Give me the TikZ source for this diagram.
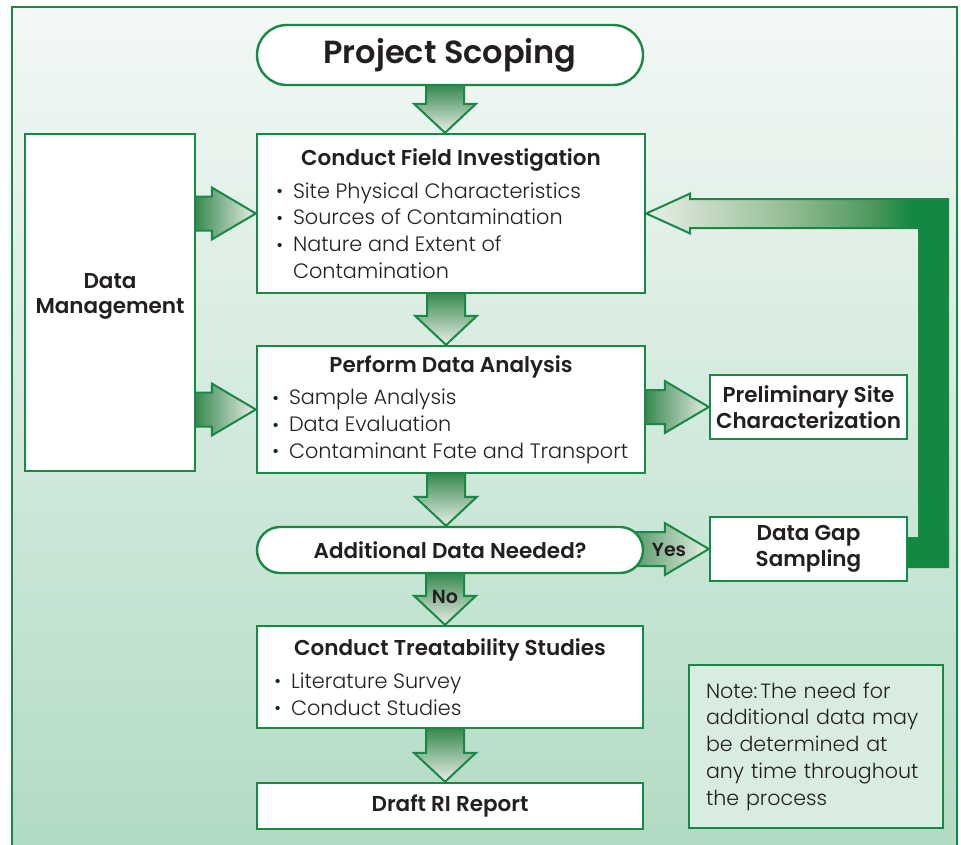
\documentclass[tikz,border=0pt]{standalone}
\usepackage{fontspec}
\setmainfont{Poppins Light}[BoldFont={Poppins SemiBold}]
\usetikzlibrary{shapes.misc,calc}
\definecolor{G}{RGB}{24,137,68}
\definecolor{AD}{RGB}{58,138,82}
\definecolor{AL}{RGB}{234,239,230}
\definecolor{AM}{RGB}{150,190,150}
\definecolor{AN}{RGB}{75,150,92}
\definecolor{FD}{RGB}{18,136,66}
\definecolor{BGT}{RGB}{243,248,245}
\definecolor{BGB}{RGB}{176,218,194}
\definecolor{NF}{RGB}{216,236,224}
\definecolor{TX}{RGB}{35,31,32}
\pgfdeclarelayer{back}
\pgfdeclarelayer{arr}
\pgfsetlayers{back,arr,main}
\pgfdeclarehorizontalshading{fbshade}{100bp}{color(0bp)=(AL); color(25bp)=(AL); color(48bp)=(AM); color(63bp)=(AN); color(69bp)=(FD); color(100bp)=(FD)}
\hfuzz=400pt
\newcommand{\bitem}[1]{\par\noindent\makebox[17pt][l]{\raisebox{1.5pt}{\fontsize{15}{15}\selectfont\bfseries •}}\mbox{#1}}
\newcommand{\bcont}[1]{\par\noindent\hspace*{17pt}\mbox{#1}}
\newcommand{\boxtext}[3]{\parbox{#1}{\fontsize{20.8}{26.7}\selectfont{\centering\fontsize{21.5}{26.7}\selectfont\bfseries #2\par}\vspace{6pt}#3}}
\newcommand{\varrow}[2]{%
  \draw[draw=G, line width=2pt, top color=AD, bottom color=AL]
    let \p1=(#1.south), \p2=(#2.north) in
    (\x1-24pt,\y1) -- (\x1-24pt,\y2+29pt) -- (\x1-36pt,\y2+29pt) -- (\x1-5pt,\y2)
    -- (\x1+26pt,\y2+29pt) -- (\x1+14pt,\y2+29pt) -- (\x1+14pt,\y1);}
\newcommand{\harrow}[3]{%
  \draw[draw=G, line width=2pt, left color=AD, right color=AL]
    let \p1=(#1.east), \p2=(#2.west) in
    (\x1-#3,\y2+17pt) -- (\x2-44pt,\y2+17pt) -- (\x2-44pt,\y2+26pt) -- (\x2,\y2)
    -- (\x2-44pt,\y2-26pt) -- (\x2-44pt,\y2-17pt) -- (\x1-#3,\y2-17pt);}
\tikzset{
  box/.style={draw=G, line width=2.4pt, fill=white, rectangle, inner sep=0pt, text=TX},
  pill/.style={box, rounded rectangle},
  head/.style={font=\fontsize{21.5}{25.5}\selectfont\bfseries, align=center},
  lbl/.style={text=TX, inner sep=0pt, font=\fontsize{19}{19}\selectfont\bfseries}
}
\begin{document}
\begin{tikzpicture}[x=1pt,y=-1pt]
\useasboundingbox (0,0) rectangle (961,844);
\begin{pgfonlayer}{back}
  \fill[white] (0,0) rectangle (961,844);
  \clip (0,0) rectangle (961,844);
  \shade[top color=BGT, bottom color=BGB] (12,7) rectangle (957,870);
  \draw[G, line width=2.4pt] (12,7) rectangle (957,870);
\end{pgfonlayer}

\node[pill, minimum width=386pt, minimum height=60pt, font=\fontsize{32}{32}\selectfont\bfseries] (ps) at (450,55) {Project Scoping};

\node[box, minimum width=388pt, minimum height=159pt] (cfi) at (451,213.5)
  {\boxtext{350pt}{Conduct Field Investigation}{\bitem{Site Physical Characteristics}\bitem{Sources of Contamination}\bitem{Nature and Extent of}\bcont{Contamination}}};

\node[box, minimum width=170pt, minimum height=337pt, head] (dm) at (110,302.5)
  {\raisebox{30pt}{\parbox{160pt}{\centering Data\\Management}}};

\node[box, minimum width=388pt, minimum height=127pt] (pda) at (451,409.5)
  {\boxtext{358pt}{Perform Data Analysis}{\bitem{Sample Analysis}\bitem{Data Evaluation}\bitem{Contaminant Fate and Transport}}};

\node[box, minimum width=197pt, minimum height=64pt, head] (psc) at (808.5,407) {Preliminary Site\\Characterization};

\node[pill, minimum width=386pt, minimum height=46pt, head] (dec) at (450,550) {Additional Data Needed?};

\node[box, minimum width=197pt, minimum height=64pt, head] (dgs) at (808.5,549) {Data Gap\\Sampling};

\node[box, minimum width=386pt, minimum height=102pt] (cts) at (450,677)
  {\boxtext{352pt}{Conduct Treatability Studies}{\bitem{Literature Survey}\bitem{Conduct Studies}}};

\node[box, minimum width=386pt, minimum height=46pt, head] (dri) at (450,806) {Draft RI Report};

\node[box, fill=NF, line width=2.6pt, minimum width=254pt, minimum height=163pt, text width=220pt, align=left, font=\fontsize{20.6}{26.7}\selectfont] (note) at (816,746.5)
  {Note:\hspace{3pt}The need for\\additional data may\\be determined at\\any time throughout\\the process};

\node[lbl] (yes) at (669,550) {Yes};
\node[lbl] (no) at (445,597) {No};

\begin{pgfonlayer}{arr}
  \varrow{ps}{cfi}
  \varrow{cfi}{pda}
  \varrow{pda}{dec}
  \varrow{dec}{cts}
  \varrow{cts}{dri}
  \harrow{dm}{cfi}{0pt}
  \harrow{dm}{pda}{0pt}
  \harrow{pda}{psc}{0pt}
  \harrow{dec}{dgs}{25pt}
  \shadedraw[draw=G, line width=2pt, shading=fbshade]
    let \p1=(dgs.east), \p2=(cfi.east) in
    (\x1,\y1-18pt) -- (\x1+40pt,\y1-18pt) -- (\x1+40pt,\y2+14.5pt) -- (\x2+44pt,\y2+14.5pt)
    -- (\x2+44pt,\y2+20pt) -- (\x2,\y2) -- (\x2+44pt,\y2-20pt) -- (\x2+44pt,\y2-14.5pt)
    -- (\x1+11pt,\y2-14.5pt) -- (\x1+11pt,\y1+11pt) -- (\x1,\y1+11pt);
\end{pgfonlayer}
\end{tikzpicture}
\end{document}
